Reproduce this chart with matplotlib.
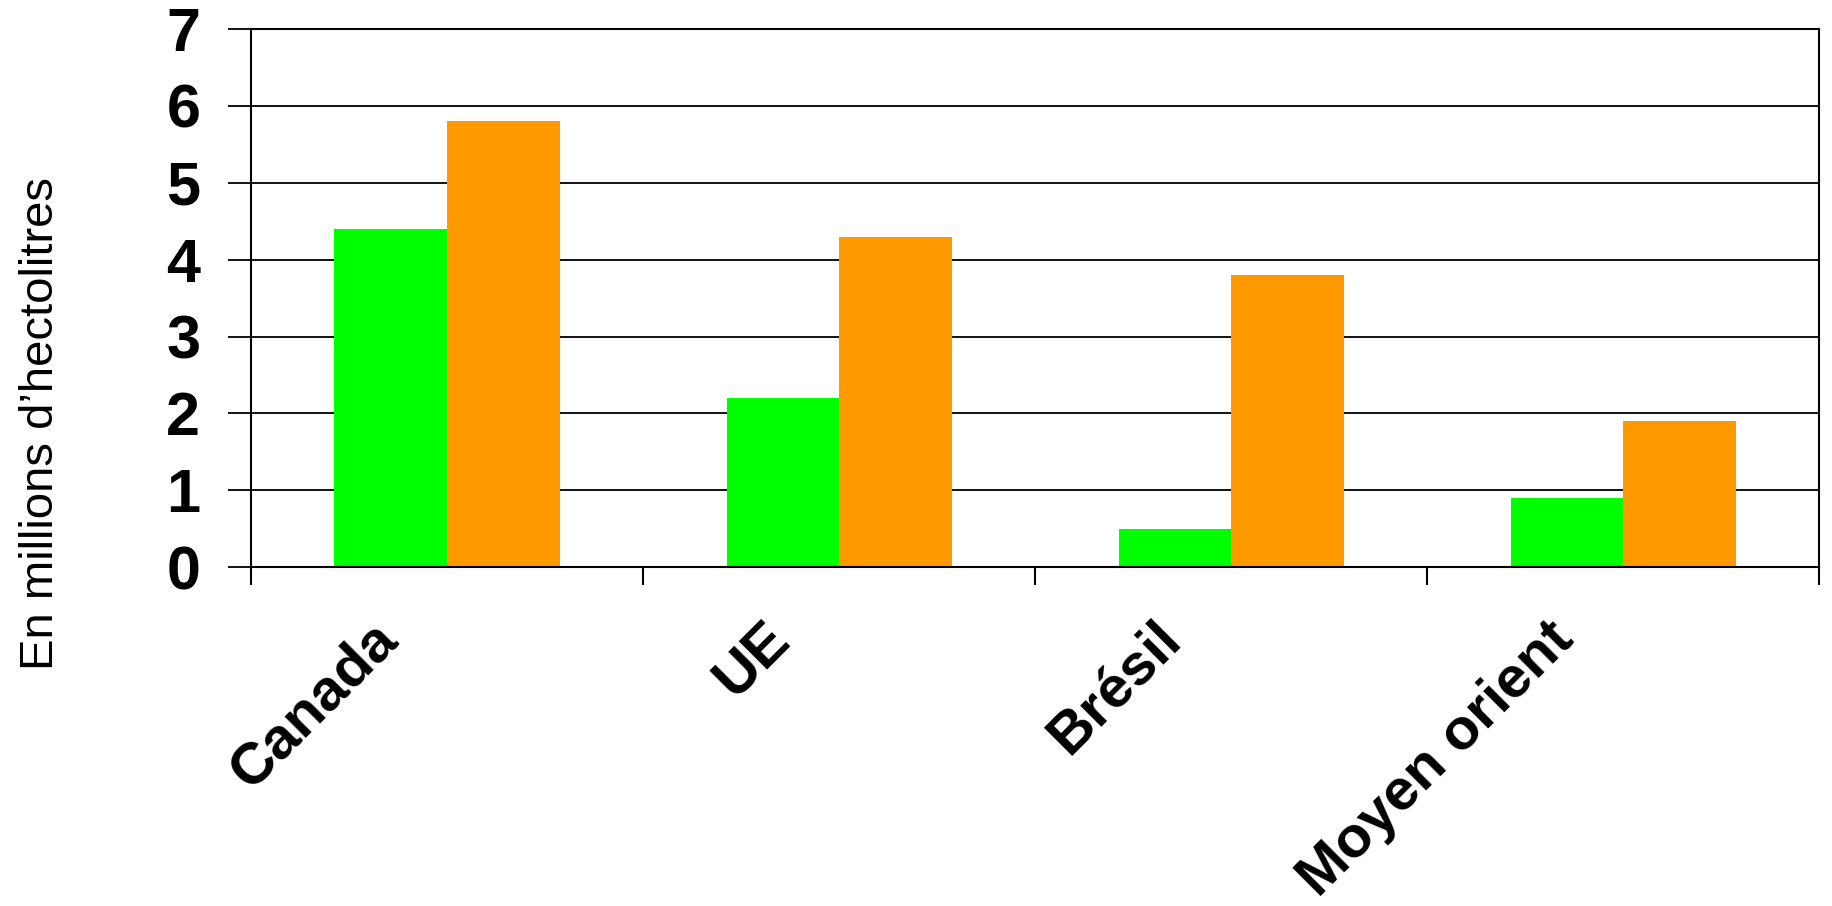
import matplotlib
matplotlib.use('Agg')
import matplotlib.pyplot as plt
import matplotlib.transforms as mtransforms
import numpy as np

# Data
categories = ['Canada', 'UE', 'Brésil', 'Moyen orient']
serie_verte = [4.4, 2.2, 0.5, 0.9]
serie_orange = [5.8, 4.3, 3.8, 1.9]
y_ticks = [0, 1, 2, 3, 4, 5, 6, 7]

plt.rcParams['font.family'] = ['Liberation Sans', 'DejaVu Sans']

fig = plt.figure(figsize=(18.32, 9.06), dpi=100)
ax = fig.add_axes([0.137, 0.374, 0.856, 0.594])

x = np.arange(len(categories))
w = 0.287
ax.bar(x - w / 2, serie_verte, width=w, color='#00FF00', zorder=2)
ax.bar(x + w / 2, serie_orange, width=w, color='#FF9900', zorder=2)

ax.set_xlim(-0.5, len(categories) - 0.5)
ax.set_ylim(0, 7)
ax.set_yticks(y_ticks)
ax.set_yticklabels([str(v) for v in y_ticks], fontsize=44, fontweight='bold')
ax.yaxis.grid(True, color='black', linewidth=1.3, zorder=0)
ax.set_axisbelow(True)

# category boundary ticks on x axis
ax.set_xticks(np.arange(len(categories) + 1) - 0.5)
ax.set_xticklabels([])
ax.tick_params(axis='x', direction='out', length=13, width=1.5, color='black')
ax.tick_params(axis='y', direction='out', length=16.5, width=1.3, color='black', pad=20)

for s in ax.spines.values():
    s.set_linewidth(1.5)
    s.set_color('black')

# rotated category labels
trans = mtransforms.offset_copy(ax.get_xaxis_transform(), fig=fig, x=-58, y=-64, units='dots')
for i, lab in enumerate(categories):
    ax.text(i, 0, lab, transform=trans, rotation=45, rotation_mode='anchor',
            ha='right', va='center', fontsize=42, fontweight='bold')

fig.text(0.0225, 0.533, 'En millions d\u2019hectolitres', rotation=90,
         ha='center', va='center', fontsize=34)

fig.savefig('out.png', dpi=100)
